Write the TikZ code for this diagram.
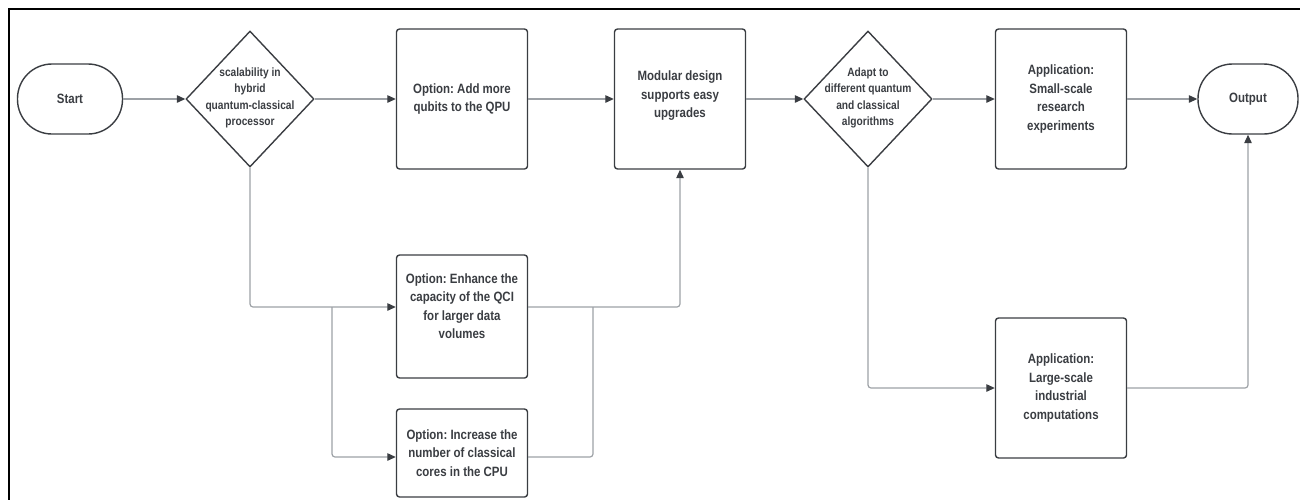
\documentclass[tikz,border=0pt]{standalone}
\usepackage{fontspec}
\setmainfont{Liberation Sans}[FakeStretch=0.85]
\usetikzlibrary{arrows.meta,shapes.geometric}
\definecolor{boxline}{HTML}{3A3D42}
\definecolor{conn}{HTML}{9DA1A6}
\definecolor{txt}{HTML}{3A3D42}
\frenchspacing
\begin{document}
\begin{tikzpicture}[x=1pt,y=-1pt,
  every node/.style={text=txt,font=\bfseries\fontsize{13.5}{18.5}\selectfont,align=center},
  procbox/.style={draw=boxline,line width=1.4pt,rounded corners=3pt,minimum width=131pt,inner sep=0pt},
  termbox/.style={draw=boxline,line width=1.4pt,rounded corners=34.5pt,minimum height=70pt,inner sep=0pt},
  decbox/.style={draw=boxline,line width=1.4pt,diamond,minimum width=128pt,minimum height=136pt,inner sep=0pt},
  dectext/.style={font=\bfseries\fontsize{12}{16.5}\selectfont},
  conline/.style={draw=conn,line width=1.2pt,rounded corners=3pt},
  arr/.style={conline,-{Triangle[length=8.5pt,width=7.5pt,color=boxline,fill=boxline]}}
]
\useasboundingbox (0,0) rectangle (1300,499);
\begin{scope}
\clip (0,0) rectangle (1300,499);
\draw[line width=1.6pt,black] (9,9) rectangle (1330,530);
\end{scope}

% nodes
\node[termbox,minimum width=105pt] (start) at (70,99) {Start};
\node[decbox] (d1) at (250,99) {};
\node[dectext] (d1t) at (250,98) {scalability in\\hybrid\\quantum-classical\\processor};
\node[procbox,minimum height=140pt] (qpu) at (462,99) {Option: Add more\\qubits to the QPU};
\node[procbox,minimum height=140pt] (mod) at (680,99) {};
\node (modt) at (680,96) {Modular design\\supports easy\\upgrades};
\node[decbox] (d2) at (868,99) {};
\node[dectext] (d2t) at (868,98) {Adapt to\\different quantum\\and classical\\algorithms};
\node[procbox,minimum height=140pt] (small) at (1061,99) {Application:\\Small-scale\\research\\experiments};
\node[termbox,minimum width=100pt] (out) at (1248,99) {Output};
\node[procbox,minimum height=123pt] (qci) at (462,316.5) {};
\node (qcit) at (462,306) {Option: Enhance the\\capacity of the QCI\\for larger data\\volumes};
\node[procbox,minimum height=88pt] (cpu) at (462,453) {Option: Increase the\\number of classical\\cores in the CPU};
\node[procbox,minimum height=140pt] (large) at (1061,388) {Application:\\Large-scale\\industrial\\computations};

% connectors
\draw[arr] (start.east) -- (d1.west);
\draw[arr] (d1.east) -- (qpu.west);
\draw[arr] (qpu.east) -- (mod.west);
\draw[arr] (mod.east) -- (d2.west);
\draw[arr] (d2.east) -- (small.west);
\draw[arr] (small.east) -- (out.west);

\coordinate (qciin) at ([yshift=9.5pt]qci.west);
\coordinate (cpuin) at ([yshift=-4pt]cpu.west);
\coordinate (qciout) at ([yshift=9.5pt]qci.east);
\coordinate (cpuout) at ([yshift=-4pt]cpu.east);
\coordinate (split) at (332,307);
\coordinate (merge) at (593,307);

\draw[arr] (d1.south) |- (qciin);
\draw[arr] (split) |- (cpuin);
\draw[arr] (qciout) -| (mod.south);
\draw[conline] (cpuout) -| (merge);
\draw[arr] (d2.south) |- (large.west);
\draw[arr] (large.east) -| (out.south);
\end{tikzpicture}
\end{document}
